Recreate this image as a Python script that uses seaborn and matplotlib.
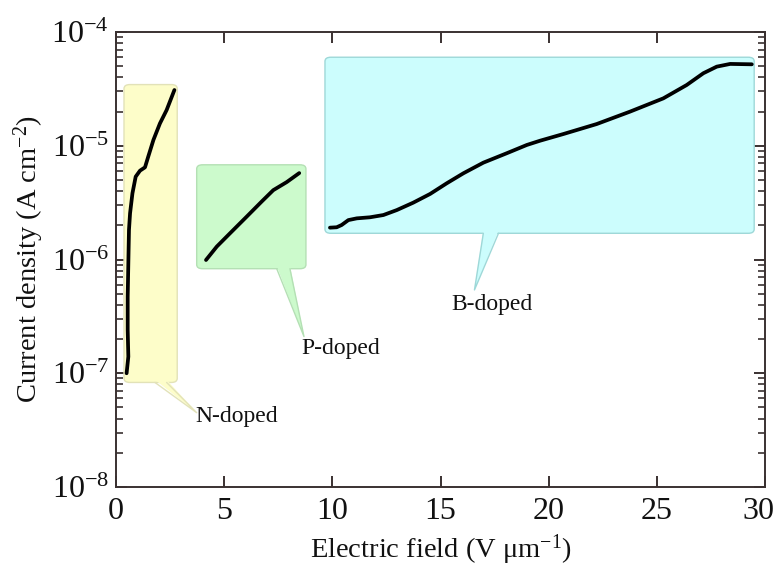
import numpy as np
import pandas as pd
import matplotlib
matplotlib.use("Agg")
import matplotlib.pyplot as plt
import matplotlib.transforms as mtransforms
import seaborn as sns
from matplotlib.patches import FancyBboxPatch, Polygon
from matplotlib.ticker import LogLocator, NullFormatter, FixedLocator

# ---- data ----
n_field = [0.49, 0.57, 0.54, 0.54, 0.57, 0.60, 0.65, 0.76, 0.91, 1.11, 1.34, 1.49, 1.73, 2.03, 2.34, 2.70]
n_current = [1.0e-7, 1.40e-7, 2.40e-7, 4.71e-7, 9.27e-7, 1.82e-6, 2.55e-6, 3.82e-6, 5.35e-6,
             6.04e-6, 6.46e-6, 8.02e-6, 1.125e-5, 1.57e-5, 2.06e-5, 3.09e-5]

p_field = [4.16, 4.66, 5.27, 6.04, 6.74, 7.27, 7.89, 8.47]
p_current = [9.9e-7, 1.30e-6, 1.70e-6, 2.38e-6, 3.24e-6, 4.07e-6, 4.79e-6, 5.75e-6]

b_field = [9.89, 10.20, 10.43, 10.74, 11.13, 11.74, 12.36, 12.98, 13.74, 14.52, 15.29, 16.06,
           16.98, 18.06, 18.99, 19.60, 20.68, 22.22, 23.76, 25.30, 26.38, 27.15, 27.77, 28.39, 29.39]
b_current = [1.905e-6, 1.92e-6, 2.01e-6, 2.22e-6, 2.30e-6, 2.35e-6, 2.46e-6, 2.72e-6, 3.16e-6,
             3.77e-6, 4.68e-6, 5.73e-6, 7.10e-6, 8.59e-6, 1.016e-5, 1.107e-5, 1.268e-5,
             1.552e-5, 1.995e-5, 2.61e-5, 3.42e-5, 4.34e-5, 4.96e-5, 5.24e-5, 5.20e-5]

series_names = ["N-doped", "P-doped", "B-doped"]
x_ticks = [0, 5, 10, 15, 20, 25, 30]
y_ticks = [1e-8, 1e-7, 1e-6, 1e-5, 1e-4]
y_tick_labels = ["10$^{-8}$", "10$^{-7}$", "10$^{-6}$", "10$^{-5}$", "10$^{-4}$"]

# callout geometry (data units): box x0, x1, y0, y1; tail base x0, x1; tail tip x, y; label x, y
callouts = {
    "N-doped": dict(box=(0.37, 2.83, 8.3e-8, 3.45e-5), base=(1.80, 2.34), tip=(3.73, 4.5e-8),
                    label=(5.6, 4.2e-8), color="#fdfdc9", edge="#e2e2b8"),
    "P-doped": dict(box=(3.73, 8.78, 8.3e-7, 6.8e-6), base=(7.43, 8.04), tip=(8.69, 2.1e-7),
                    label=(10.4, 1.65e-7), color="#ccfacc", edge="#b4e0b4"),
    "B-doped": dict(box=(9.66, 29.5, 1.7e-6, 6.0e-5), base=(16.98, 17.68), tip=(16.57, 5.4e-7),
                    label=(17.4, 4.0e-7), color="#ccfdfd", edge="#9ed8d8"),
}

df = pd.concat([
    pd.DataFrame({"field": n_field, "current": n_current, "sample": "N-doped"}),
    pd.DataFrame({"field": p_field, "current": p_current, "sample": "P-doped"}),
    pd.DataFrame({"field": b_field, "current": b_current, "sample": "B-doped"}),
], ignore_index=True)

sns.set_style("ticks")
plt.rcParams['font.family'] = ['Liberation Serif', 'DejaVu Serif']
plt.rcParams['mathtext.fontset'] = 'custom'
plt.rcParams['mathtext.rm'] = 'Liberation Serif'
plt.rcParams['mathtext.it'] = 'Liberation Serif:italic'
plt.rcParams['mathtext.bf'] = 'Liberation Serif:bold'

fig = plt.figure(figsize=(7.8, 5.71), dpi=100)
ax = fig.add_axes([116 / 780, 1 - 487 / 571, (765 - 116) / 780, (487 - 32) / 571])
ax.set_yscale("log")
ax.set_xlim(0, 30)
ax.set_ylim(1e-8, 1e-4)

to_ax = ax.transData + ax.transAxes.inverted()

# callouts
for name in series_names:
    c = callouts[name]
    x0, x1, y0, y1 = c["box"]
    (ax0, ay0) = to_ax.transform((x0, y0))
    (ax1, ay1) = to_ax.transform((x1, y1))
    box = FancyBboxPatch((ax0, ay0), ax1 - ax0, ay1 - ay0,
                         boxstyle="round,pad=0,rounding_size=0.009",
                         transform=ax.transAxes, facecolor=c["color"], edgecolor=c["edge"],
                         linewidth=1.0, zorder=1)
    ax.add_patch(box)
    bx0 = to_ax.transform((c["base"][0], y0))[0]
    bx1 = to_ax.transform((c["base"][1], y0))[0]
    tx, ty = to_ax.transform(c["tip"])
    tail = Polygon([(bx0, ay0 + 0.006), (bx1, ay0 + 0.006), (tx, ty)], closed=True,
                   transform=ax.transAxes, facecolor=c["color"], edgecolor="none", zorder=1.5)
    ax.add_patch(tail)
    ax.plot([bx0, tx, bx1], [ay0, ty, ay0], transform=ax.transAxes, color=c["edge"],
            linewidth=1.0, zorder=1.6)
    ax.text(c["label"][0], c["label"][1], name, ha="center", va="center",
            fontsize=17, color="#111111", zorder=3)

# curves
for name in series_names:
    sub = df[df["sample"] == name]
    sns.lineplot(data=sub, x="field", y="current", sort=False, estimator=None,
                 color="black", linewidth=2.7, ax=ax, legend=False, zorder=4,
                 solid_capstyle="round", solid_joinstyle="round")

ax.set_yscale("log")
ax.set_xlim(0, 30)
ax.set_ylim(1e-8, 1e-4)

spine_color = "#3a3131"
for s in ax.spines.values():
    s.set_visible(True)
    s.set_color(spine_color)
    s.set_linewidth(1.4)

ax.xaxis.set_major_locator(FixedLocator(x_ticks))
ax.set_xticklabels([str(v) for v in x_ticks])
ax.xaxis.set_minor_locator(FixedLocator([]))
ax.yaxis.set_major_locator(FixedLocator(y_ticks))
ax.set_yticklabels(y_tick_labels)
ax.yaxis.set_minor_locator(LogLocator(base=10, subs=np.arange(2, 10), numticks=20))
ax.yaxis.set_minor_formatter(NullFormatter())

ax.tick_params(axis="both", which="major", direction="in", length=8, width=1.4,
               color=spine_color, top=True, right=True, labelsize=23, labelcolor="#111111")
ax.tick_params(axis="y", which="minor", direction="in", length=5, width=1.2,
               color=spine_color, left=True, right=True)
ax.tick_params(axis="x", which="major", pad=7)
ax.tick_params(axis="y", which="major", pad=5)

# nudge the last x tick label so it stays inside the figure
last = ax.get_xticklabels()[-1]
last.set_transform(last.get_transform() +
                   mtransforms.ScaledTranslation(-5 / 72, 0, fig.dpi_scale_trans))

ax.set_xlabel("Electric field (V \u03bcm$^{-1}$)", fontsize=20.5, color="#111111", labelpad=5)
ax.set_ylabel("Current density (A cm$^{-2}$)", fontsize=20.5, color="#111111", labelpad=4)

fig.savefig("out.png", dpi=100)
